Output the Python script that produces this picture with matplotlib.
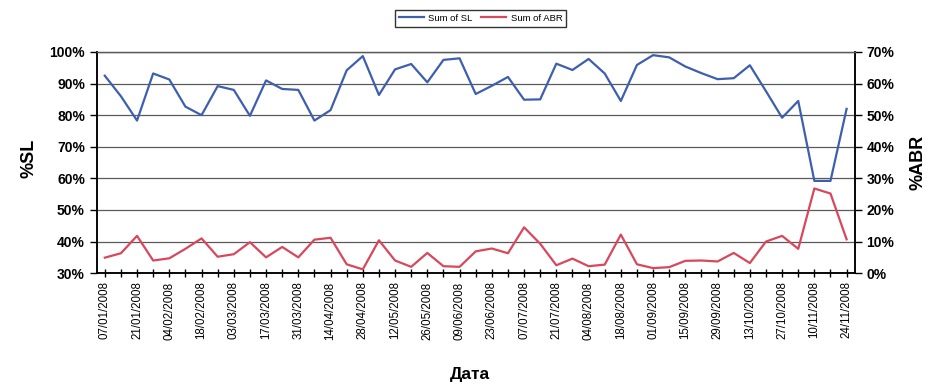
import matplotlib
matplotlib.use("Agg")
import matplotlib.pyplot as plt
from matplotlib.ticker import FixedLocator, FuncFormatter

plt.rcParams['font.family'] = ['Liberation Sans', 'DejaVu Sans']

# Weekly categories (2008)
weeks = [
    "07/01/2008", "14/01/2008", "21/01/2008", "28/01/2008",
    "04/02/2008", "11/02/2008", "18/02/2008", "25/02/2008",
    "03/03/2008", "10/03/2008", "17/03/2008", "24/03/2008", "31/03/2008",
    "07/04/2008", "14/04/2008", "21/04/2008", "28/04/2008",
    "05/05/2008", "12/05/2008", "19/05/2008", "26/05/2008",
    "02/06/2008", "09/06/2008", "16/06/2008", "23/06/2008", "30/06/2008",
    "07/07/2008", "14/07/2008", "21/07/2008", "28/07/2008",
    "04/08/2008", "11/08/2008", "18/08/2008", "25/08/2008",
    "01/09/2008", "08/09/2008", "15/09/2008", "22/09/2008", "29/09/2008",
    "06/10/2008", "13/10/2008", "20/10/2008", "27/10/2008",
    "03/11/2008", "10/11/2008", "17/11/2008", "24/11/2008",
]

# Sum of SL, % (left axis)
sl = [92.5, 86.0, 78.3, 93.2, 91.3, 82.7, 80.0, 89.2, 88.0, 79.8,
      91.0, 88.3, 88.0, 78.3, 81.6, 94.2, 98.7, 86.4, 94.5, 96.2,
      90.4, 97.5, 98.0, 86.7, 89.3, 92.1, 84.9, 85.0, 96.3, 94.3,
      97.8, 93.2, 84.5, 95.9, 99.0, 98.3, 95.4, 93.3, 91.4, 91.7,
      95.8, 87.6, 79.2, 84.5, 59.2, 59.2, 82.0]

# Sum of ABR, % (right axis)
abr = [4.9, 6.3, 11.8, 4.0, 4.7, 7.7, 11.0, 5.2, 6.0, 9.8,
       5.0, 8.3, 5.0, 10.6, 11.2, 2.8, 1.2, 10.4, 4.0, 2.0,
       6.4, 2.2, 2.0, 6.9, 7.8, 6.3, 14.5, 9.3, 2.5, 4.6,
       2.2, 2.7, 12.2, 2.8, 1.6, 1.9, 3.9, 4.0, 3.7, 6.4,
       3.2, 10.0, 11.8, 7.7, 26.8, 25.2, 10.7]

sl_ticks = [30, 40, 50, 60, 70, 80, 90, 100]
abr_ticks = [0, 10, 20, 30, 40, 50, 60, 70]

blue = "#3d5fae"
red = "#d8475c"
grid_col = "#5a5a5a"

fig = plt.figure(figsize=(9.3, 3.88), dpi=100)
ax = fig.add_axes([0.104, 0.296, 0.815, 0.570])
ax2 = ax.twinx()

x = list(range(len(weeks)))
l1, = ax.plot(x, sl, color=blue, lw=1.6, label="Sum of SL")
l2, = ax2.plot(x, abr, color=red, lw=1.6, label="Sum of ABR")

ax.set_xlim(-0.5, len(weeks) - 0.5)
ax.set_ylim(30, 100)
ax2.set_ylim(0, 70)

pct = FuncFormatter(lambda v, p: f"{v:.0f}%")
ax.yaxis.set_major_locator(FixedLocator(sl_ticks))
ax.yaxis.set_major_formatter(pct)
ax2.yaxis.set_major_locator(FixedLocator(abr_ticks))
ax2.yaxis.set_major_formatter(pct)

ax.grid(axis='y', color=grid_col, lw=0.9)
ax.set_axisbelow(True)

ax.xaxis.set_major_locator(FixedLocator(x[::2]))
ax.set_xticklabels(weeks[::2], rotation=90, fontsize=8.3)
ax.xaxis.set_minor_locator(FixedLocator(x))
ax.tick_params(axis='x', which='both', direction='inout', length=6, width=1, pad=3)

ax.tick_params(axis='y', labelsize=10, length=5, width=1)
ax2.tick_params(axis='y', labelsize=10, length=5, width=1)
for lab in ax.get_yticklabels() + ax2.get_yticklabels():
    lab.set_fontweight('bold')

for a in (ax, ax2):
    a.spines['top'].set_color(grid_col)
    a.spines['top'].set_linewidth(0.9)
    a.spines['left'].set_linewidth(1.1)
    a.spines['right'].set_linewidth(1.1)
    a.spines['bottom'].set_linewidth(1.1)

ax.set_ylabel("%SL", fontsize=13, fontweight='bold')
ax.yaxis.set_label_coords(-0.078, 0.52)
ax2.set_ylabel("%ABR", fontsize=13, fontweight='bold')
ax2.yaxis.set_label_coords(1.072, 0.5)
ax.set_xlabel("Дата", fontsize=12.5, fontweight='bold')
ax.xaxis.set_label_coords(0.492, -0.425)

leg = fig.legend(handles=[l1, l2], loc='center', bbox_to_anchor=(0.517, 0.953),
                 ncol=2, fontsize=6.8, frameon=True, fancybox=False,
                 handlelength=2.6, handletextpad=0.5, columnspacing=0.9,
                 borderpad=0.4)
leg.get_frame().set_edgecolor('black')
leg.get_frame().set_linewidth(1.0)

fig.savefig("out.png", dpi=100)
